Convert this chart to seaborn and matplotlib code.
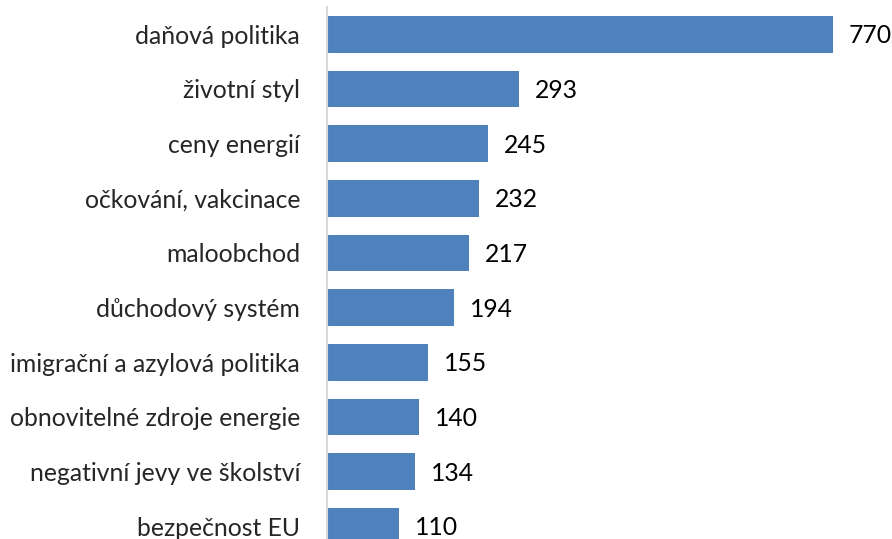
import matplotlib
matplotlib.use("Agg")
import matplotlib.pyplot as plt
import seaborn as sns
import pandas as pd

categories = ["daňová politika", "životní styl", "ceny energií", "očkování, vakcinace",
              "maloobchod", "důchodový systém", "imigrační a azylová politika",
              "obnovitelné zdroje energie", "negativní jevy ve školství", "bezpečnost EU"]
values = [770, 293, 245, 232, 217, 194, 155, 140, 134, 110]

df = pd.DataFrame({"cat": categories, "val": values})

sns.set_style("white")
plt.rcParams['font.family'] = ['Lato', 'DejaVu Sans']

W, H = 892, 539
fig = plt.figure(figsize=(W / 100, H / 100), dpi=100)
left_px, top_px = 326.5, 7
ax = fig.add_axes([left_px / W, 0, (W - left_px) / W, (H - top_px) / H])

sns.barplot(data=df, x="val", y="cat", orient="h", color="#4F81BD", saturation=1,
            width=0.668, ax=ax, edgecolor="none")

scale = 0.6575
ax.set_xlim(0, (W - left_px) / scale)
ax.set_ylim(9.232, -0.5)

for i, v in enumerate(values):
    ax.text(v + 16 / scale, i + 0.03, str(v), va="center", ha="left", fontsize=17.8, color="black")

for s in ["top", "right", "bottom"]:
    ax.spines[s].set_visible(False)
ax.spines["left"].set_color("#D9D9D9")
ax.spines["left"].set_linewidth(1.5)
ax.set_xticks([])
ax.tick_params(axis="y", length=0, pad=19, labelsize=17.8)
for lbl in ax.get_yticklabels():
    lbl.set_y(lbl.get_position()[1])
ax.set_xlabel("")
ax.set_ylabel("")

fig.savefig("out.png", dpi=100)
